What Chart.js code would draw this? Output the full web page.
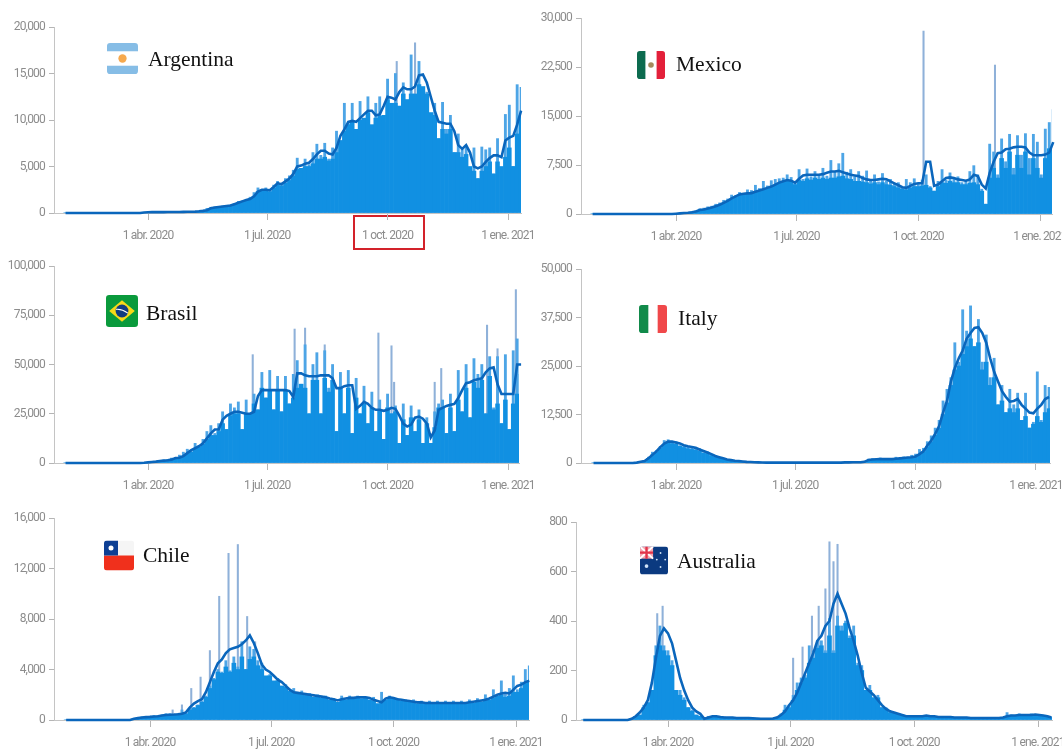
<!DOCTYPE html>
<html>
<head>
<meta charset="utf-8">
<title>Daily cases by country</title>
<script src="https://cdn.jsdelivr.net/npm/chart.js@4"></script>
<style>
  html, body { margin: 0; padding: 0; background: #fff; overflow: hidden; }
  #stage { position: relative; width: 1062px; height: 750px; overflow: hidden; }
  canvas { position: absolute; filter: blur(0.45px); }
  .name { position: absolute; font-family: "Liberation Serif", serif; font-size: 21.5px; color: #111; line-height: 24px; white-space: nowrap; }
  .flag { position: absolute; }
  #oct-box { position: absolute; left: 353px; top: 215px; width: 68px; height: 31px; border: 2px solid #d3222a; }
</style>
</head>
<body>
<div id="stage"><div id="oct-box"></div></div>
<script>
// Axis values (days counted from 1 Jan 2020)
var tickDays = [91, 182, 274, 366];
var tickLabels = ['1 abr. 2020', '1 jul. 2020', '1 oct. 2020', '1 ene. 2021'];
var firstDay = 28;
var dayStep = 3;

// Argentina
var argentinaBody = [
  0,0,0,0,0,0,0,0,0,0,
  0,0,0,0,0,0,0,0,0,0,
  60,80,90,90,90,90,100,100,110,110,
  120,130,140,150,180,230,300,480,600,650,
  700,750,800,950,1100,1200,1300,1500,1800,2300,
  2400,2400,2300,2700,3000,2900,3200,3500,4000,4700,
  4800,5000,5000,5300,5800,5800,6000,5600,5800,6500,
  7800,8800,9500,9800,9000,10000,10200,10800,9500,10200,
  10400,10500,12200,11800,11800,11500,12800,12200,12800,12800,
  13800,13600,12800,10800,10500,8000,9000,8500,9000,6500,
  6500,6000,6300,5000,4500,3700,4500,5000,5500,4200,
  5500,5000,6000,7000,5000,8500,10500
];
var argentinaPeaks = [
  0,0,0,0,0,0,0,0,0,0,
  0,0,0,0,0,0,0,0,0,0,
  60,80,100,90,90,100,110,100,120,110,
  130,150,160,160,220,300,500,620,650,700,
  750,800,850,1000,1250,1300,1400,1700,2200,2700,
  2400,2700,2300,3000,3400,3000,3700,4000,4600,5900,
  4800,5800,5200,6500,7400,6200,7500,5800,7000,8800,
  6800,11800,9800,11800,8900,12000,9800,12500,8500,11800,
  12500,9800,14400,11500,15000,10800,14000,11500,17000,12500,
  16300,13500,13000,10500,11800,8000,11900,9000,10500,6500,
  8500,7000,7200,3300,7000,3700,7100,6800,7000,4200,
  8000,2500,10600,11600,5000,13800,13500
];
var argentinaAvg = [
  0,0,0,0,0,0,0,0,0,0,
  0,0,0,0,0,0,0,0,0,0,
  60,80,90,90,90,90,100,100,110,110,
  120,130,140,150,180,230,300,500,600,650,
  700,750,800,950,1100,1250,1400,1500,1800,2300,
  2500,2500,2450,2800,3200,3100,3400,3700,4200,5000,
  5100,5300,5400,5800,6300,6700,6700,6400,6300,7000,
  8300,9000,9800,9900,9800,10200,10600,11000,11000,10500,
  10600,11500,12500,12400,12200,13000,13500,13300,13300,13600,
  14800,14900,14000,12500,11000,9800,9700,9600,9600,8800,
  7300,6900,7300,6500,5000,4800,5000,5500,5900,6200,
  6200,6000,7800,8100,8300,9500,11000
];
var argentinaSpikeDays = [281, 295];
var argentinaSpikes = [16300, 18300];

// Mexico
var mexicoBody = [
  0,0,0,0,0,0,0,0,0,0,
  0,0,0,0,0,0,0,0,0,0,
  0,50,100,150,200,280,380,600,700,850,
  1000,1200,1400,1700,2000,2300,2600,2900,3000,3100,
  3200,3400,3500,3800,3900,4100,4400,4700,4900,5000,
  5000,4500,5200,5000,5400,5200,5500,5300,5500,5300,
  5500,5500,5700,5800,5400,5300,5000,5000,4900,4800,
  4600,4800,4500,4800,4500,4400,4200,4000,3800,3700,
  4000,4200,4200,4300,4400,4000,3500,4200,4800,4700,
  5000,4800,4800,4500,4500,4700,4800,4500,3500,1500,
  5500,7000,5500,8500,7000,9500,6000,9000,7000,9500,
  6000,8500,7000,5500,8500,10000,10500
];
var mexicoPeaks = [
  0,0,0,0,0,0,0,0,0,0,
  0,0,0,0,0,0,0,0,0,0,
  0,50,120,180,250,350,500,800,900,1100,
  1200,1500,1700,2100,2300,2900,2800,3300,3100,3700,
  3600,4400,3900,5000,4300,5100,5300,5400,5500,6000,
  5600,4700,6800,5300,6900,5700,6500,6000,7000,5800,
  8200,6400,7700,9300,6400,6800,5700,6500,5800,6600,
  5000,6000,4900,6200,5000,5300,4700,4800,4000,5300,
  4800,5400,4600,5200,6000,4200,3500,5000,6800,5200,
  6300,5500,5700,4800,5000,6500,7400,6000,3800,1500,
  10700,9500,6000,11500,8000,12200,7000,12000,9000,12300,
  8500,12200,11000,6000,13000,14000,16000
];
var mexicoAvg = [
  0,0,0,0,0,0,0,0,0,0,
  0,0,0,0,0,0,0,0,0,0,
  0,50,100,150,200,280,380,600,700,850,
  1000,1200,1400,1700,2000,2400,2700,3000,3100,3150,
  3200,3400,3600,3800,4000,4200,4500,4800,5000,5200,
  5100,4800,5400,5900,6000,6000,6000,6000,6100,6300,
  6500,6500,6600,6400,6200,6000,5900,5800,5500,5300,
  5200,5200,5300,5400,5300,5000,4700,4400,4100,4000,
  4300,4600,4700,4700,8000,8000,4300,4500,5000,5500,
  5600,5500,5300,5200,5100,5300,6000,5800,4500,3900,
  6300,8000,9300,9400,9900,10000,10200,10300,10300,10200,
  9400,9000,9000,9000,9100,9400,11000
];
var mexicoSpikeDays = [278, 332];
var mexicoSpikes = [28000, 22800];

// Brasil
var brasilBody = [
  0,0,0,0,0,0,0,0,0,0,
  0,0,0,0,0,0,0,0,0,0,
  100,300,500,700,1000,1200,1400,1700,2300,2700,
  3500,4800,5500,7000,8000,9500,12000,14000,14000,16000,
  20000,17000,24000,25000,25000,17000,25000,25000,30000,27000,
  38000,33000,37000,27000,37000,26000,37000,30000,33000,38000,
  40000,38000,25000,42000,42000,25000,43000,36000,42000,16000,
  38000,25000,38000,15000,33000,25000,30000,20000,28000,16000,
  27000,12000,28000,25000,26000,10000,22000,14000,23000,16000,
  22000,10000,20000,10000,18000,28000,28000,15000,28000,16000,
  32000,26000,38000,23000,41000,38000,42000,25000,44000,27000,
  30000,20000,32000,17000,30000,35000,45000
];
var brasilPeaks = [
  0,0,0,0,0,0,0,0,0,0,
  0,0,0,0,0,0,0,0,0,0,
  100,300,500,800,1200,1500,1700,2500,2800,4000,
  5500,7000,6000,10000,9000,12000,16000,19000,15000,20000,
  26000,17000,30000,28000,31000,17000,32000,25000,35000,27000,
  46000,33000,47000,27000,44000,26000,44000,30000,45000,52000,
  40000,60000,25000,50000,56000,25000,57000,38000,50000,16000,
  46000,25000,47000,15000,43000,25000,39000,20000,36000,16000,
  32000,12000,35000,25000,29000,10000,30000,14000,29000,16000,
  27000,10000,23000,10000,26000,30000,32000,15000,35000,16000,
  47000,26000,50000,23000,53000,45000,50000,25000,54000,28000,
  54000,20000,55000,17000,57000,63000,61000
];
var brasilAvg = [
  0,0,0,0,0,0,0,0,0,0,
  0,0,0,0,0,0,0,0,0,0,
  100,300,500,700,1000,1200,1400,1700,2500,2700,
  3500,5000,6500,7500,8500,10000,12500,15000,17000,17000,
  22000,24000,25000,26000,26000,25500,25000,25000,26000,34000,
  37000,37000,37000,37000,37000,37000,37000,36500,33500,45500,
  45500,44500,44000,44000,44000,44500,44500,44500,43000,38000,
  38000,39000,39500,39500,27500,29000,31000,30000,28000,27000,
  27000,26500,27000,28000,27500,24000,20000,18500,19500,23000,
  23500,22500,20000,13000,16500,27000,28000,29000,29500,30000,
  33000,37000,40500,41000,42000,42500,43000,46000,48000,48500,
  40000,35000,35000,35000,35000,50000,50000
];
var brasilSpikeDays = [171, 203, 211, 226, 267, 277, 279, 310, 315, 350, 358, 372];
var brasilSpikes = [55000, 68000, 68500, 60000, 66000, 59500, 41000, 41000, 48000, 70000, 58000, 88000];

// Italy
var italyBody = [
  0,0,0,0,0,0,0,0,0,0,
  0,100,300,500,1200,2100,2800,3800,4800,5200,
  5000,4800,4300,4000,3700,3500,3300,3000,2500,2400,
  1900,1600,1200,1000,700,600,400,400,250,200,
  200,150,100,100,100,100,100,100,100,100,
  100,100,100,100,100,100,100,100,100,100,
  100,100,100,100,150,150,200,200,200,300,
  700,800,800,900,900,900,900,1000,1000,1200,
  1200,1400,1600,2200,2800,4200,5500,7200,9000,12500,
  15500,20000,24000,25000,28000,30000,32000,30000,31000,24000,
  26000,20000,22000,15000,16000,13000,14000,13000,14000,11000,
  12000,9000,10000,12000,10500,13000,14000
];
var italyPeaks = [
  0,0,0,0,0,0,0,0,0,0,
  0,100,400,600,1500,2800,3200,4300,5800,6000,
  5200,5500,4500,4500,4100,3900,3600,3700,2700,2900,
  2000,1900,1200,1200,800,800,500,600,300,300,
  250,250,150,150,100,100,100,100,100,100,
  100,100,100,100,100,100,100,100,100,100,
  100,100,100,100,150,150,200,200,200,300,
  1000,1100,900,1300,1200,1200,1200,1500,1200,1600,
  1500,2000,2300,3500,3800,5500,7000,9000,11000,16000,
  19000,22000,31000,26000,39500,34000,40500,30000,37000,26000,
  33000,22000,27000,15000,20000,13000,19000,15000,18000,11000,
  18000,9000,10500,23500,11000,20000,19500
];
var italyAvg = [
  0,0,0,0,0,0,0,0,0,0,
  0,100,300,500,1200,2100,3000,4100,5000,5500,
  5500,5300,5000,4600,4300,4100,3900,3500,3100,2700,
  2300,1800,1500,1200,900,750,600,500,400,300,
  250,200,150,120,100,100,100,100,100,100,
  100,100,100,100,100,100,100,100,100,100,
  100,100,100,100,150,150,200,200,200,300,
  800,900,950,1000,1000,1000,1000,1100,1200,1300,
  1400,1500,1700,2300,3000,4500,5800,7500,9500,13000,
  16000,21000,24500,27000,29000,32000,33500,34800,35000,33500,
  31000,27000,23500,21000,18500,17000,15800,16000,16500,15000,
  14000,13000,12800,14000,15000,16500,17000
];
var italySpikeDays = [];
var italySpikes = [];

// Chile
var chileBody = [
  0,0,0,0,0,0,0,0,0,0,
  0,0,0,0,0,0,0,100,150,200,
  230,250,280,300,350,400,400,400,430,480,
  500,800,950,1150,1400,1800,2500,3200,3800,3700,
  4200,3800,4500,4000,5000,4000,4800,5000,4300,4000,
  3500,3500,3100,3100,2700,2600,2300,2200,2050,2050,
  1950,1950,1800,1850,1750,1750,1600,1600,1400,1600,
  1600,1700,1650,1750,1700,1750,1600,1500,1300,1400,
  1600,1750,1650,1600,1500,1500,1400,1400,1300,1350,
  1250,1300,1250,1300,1250,1300,1250,1300,1250,1300,
  1250,1350,1350,1450,1450,1550,1600,1750,1900,2000,
  1800,1900,2200,2200,2500,2900,3100
];
var chilePeaks = [
  0,0,0,0,0,0,0,0,0,0,
  0,0,0,0,0,0,0,100,200,250,
  250,300,350,350,400,500,500,400,500,800,
  500,900,1000,1200,1500,1900,2700,3300,4000,3800,
  4700,3900,5000,4200,6200,4000,5800,5600,4700,4500,
  3000,3600,2500,3300,2300,2800,2200,2500,1800,2300,
  1700,2100,1500,2000,1600,1900,1500,1700,1200,1900,
  1300,1900,1400,1900,1300,1800,1400,1800,1100,2200,
  1500,1900,1300,1700,1300,1600,1100,1600,1100,1500,
  1000,1500,1100,1500,1000,1500,1000,1500,1000,1500,
  1100,1600,1200,1700,1300,2000,1500,2400,1700,3100,
  2000,2500,3500,2400,3000,4000,4300
];
var chileAvg = [
  0,0,0,0,0,0,0,0,0,0,
  0,0,0,0,0,0,0,100,150,200,
  230,250,280,300,350,400,420,430,450,500,
  600,1000,1300,1500,1650,2200,3000,3800,4500,4800,
  5300,5600,5700,5800,6000,6300,6700,6100,5300,4400,
  4000,3800,3500,3200,3000,2700,2400,2200,2150,2100,
  2050,2000,1950,1900,1850,1800,1700,1650,1550,1650,
  1700,1750,1750,1800,1800,1800,1750,1600,1500,1400,
  1700,1800,1750,1650,1600,1550,1500,1450,1400,1400,
  1350,1350,1350,1350,1350,1350,1350,1350,1350,1350,
  1350,1400,1450,1500,1550,1600,1700,1850,2000,2100,
  2150,2100,2400,2700,2800,3000,3100
];
var chileSpikeDays = [108, 115, 122, 129, 136, 143, 150, 157, 164, 170];
var chileSpikes = [800, 1200, 2500, 3400, 5500, 9800, 13200, 13900, 8200, 6200];

// Australia
var australiaBody = [
  0,0,0,0,0,0,0,0,0,0,
  0,0,5,15,20,50,70,120,260,300,
  280,260,220,120,100,80,50,35,20,15,
  5,10,10,12,10,10,8,8,8,8,
  8,8,6,6,5,5,5,6,10,20,
  40,50,80,120,150,170,230,250,290,300,
  270,340,270,380,360,390,330,340,220,200,
  120,120,90,90,50,45,30,30,25,20,
  15,15,15,15,15,18,15,15,12,12,
  12,12,10,10,10,10,8,8,8,8,
  8,8,8,8,10,15,18,18,20,20,
  20,20,22,20,18,15,10
];
var australiaPeaks = [
  0,0,0,0,0,0,0,0,0,0,
  0,0,5,15,20,60,70,120,300,380,
  300,280,240,120,120,90,50,40,20,15,
  5,15,12,15,10,12,10,8,8,8,
  8,8,6,6,5,5,5,6,12,25,
  60,60,100,150,170,180,300,280,320,320,
  280,410,280,420,380,400,340,380,230,220,
  120,140,90,100,50,50,30,30,25,20,
  15,15,15,15,15,18,15,15,12,12,
  12,12,10,10,10,10,8,8,8,8,
  8,8,8,8,10,30,20,18,25,20,
  20,25,22,20,18,15,10
];
var australiaAvg = [
  0,0,0,0,0,0,0,0,0,0,
  0,0,5,15,30,50,80,150,250,340,
  370,350,310,240,170,120,80,50,35,25,
  5,10,15,15,12,10,10,10,8,8,
  8,8,7,6,5,5,5,6,10,20,
  35,60,80,110,150,190,230,270,320,340,
  380,400,470,510,470,430,370,320,260,190,
  130,115,100,80,60,45,35,30,25,20,
  15,15,15,15,15,18,15,15,12,12,
  12,12,10,10,10,10,8,8,8,8,
  8,8,8,8,10,15,18,18,20,20,
  20,20,22,20,18,15,10
];
var australiaSpikeDays = [83, 87, 184, 191, 198, 203, 208, 211, 214, 217];
var australiaSpikes = [430, 460, 250, 295, 420, 460, 530, 720, 640, 710];

// Y axis ranges
var argentinaMax = 20000, mexicoMax = 30000, brasilMax = 100000;
var italyMax = 50000, chileMax = 16000, australiaMax = 800;

function flagSvg(inner, w, h) {
    return '<svg width="' + w + '" height="' + h + '" viewBox="0 0 30 30"><defs><clipPath id="c' + inner.length + '"><rect width="30" height="30" rx="3"/></clipPath></defs>' +
        '<g clip-path="url(#c' + inner.length + ')">' + inner + '</g></svg>';
}

var flags = {
    argentina: '<rect width="30" height="30" fill="#fff"/><rect width="30" height="8" fill="#86bde6"/><rect y="22" width="30" height="8" fill="#86bde6"/><circle cx="15" cy="15" r="4" fill="#f6a94e"/>',
    mexico: '<rect width="30" height="30" fill="#fff"/><rect width="9" height="30" fill="#0c6b4f"/><rect x="21" width="9" height="30" fill="#e3203a"/><circle cx="15" cy="15" r="3" fill="#a58a5c"/>',
    brasil: '<rect width="30" height="30" fill="#0a9a3c"/><path d="M15 5L27 15L15 25L3 15Z" fill="#f7d918"/><circle cx="15" cy="15" r="6" fill="#123c80"/><path d="M9.5 13.5Q15 13 20.5 17" stroke="#fff" stroke-width="1" fill="none"/>',
    italy: '<rect width="30" height="30" fill="#fff"/><rect width="10" height="30" fill="#118a4a"/><rect x="20" width="10" height="30" fill="#f0484a"/>',
    chile: '<rect width="30" height="30" fill="#f5f5f5"/><rect y="15" width="30" height="15" fill="#f0301c"/><rect width="14" height="15" fill="#0d3f94"/><circle cx="7" cy="7.5" r="2.5" fill="#fff"/>',
    australia: '<rect width="30" height="30" fill="#0b3a80"/><rect width="14" height="13" fill="#f4a6b0"/><path d="M0 0L14 13M14 0L0 13" stroke="#fff" stroke-width="2"/><path d="M7 0V13M0 6.5H14" stroke="#e2344a" stroke-width="2.5"/><circle cx="7" cy="21" r="2" fill="#cfe3f7"/><circle cx="22" cy="7" r="1" fill="#cfe3f7"/><circle cx="27" cy="14" r="1" fill="#cfe3f7"/><circle cx="22" cy="22" r="1" fill="#cfe3f7"/><circle cx="18" cy="14" r="1" fill="#cfe3f7"/>'
};

// Where each panel sits on the page
var panels = [
    { name: 'Argentina', flag: 'argentina', body: argentinaBody, peaks: argentinaPeaks, avg: argentinaAvg, spikeDays: argentinaSpikeDays, spikes: argentinaSpikes, yMax: argentinaMax,
      axis: 54, right: 521, apr: 148, jan: 508, top: 27, bottom: 213, flagBox: [107, 43, 31, 31], label: [148, 47] },
    { name: 'Mexico', flag: 'mexico', body: mexicoBody, peaks: mexicoPeaks, avg: mexicoAvg, spikeDays: mexicoSpikeDays, spikes: mexicoSpikes, yMax: mexicoMax,
      axis: 581, right: 1052, apr: 676, jan: 1040, top: 18, bottom: 214, flagBox: [637, 50, 28, 30], label: [676, 52] },
    { name: 'Brasil', flag: 'brasil', body: brasilBody, peaks: brasilPeaks, avg: brasilAvg, spikeDays: brasilSpikeDays, spikes: brasilSpikes, yMax: brasilMax,
      axis: 54, right: 519, apr: 148, jan: 508, top: 266, bottom: 463, flagBox: [106, 295, 32, 32], label: [146, 301] },
    { name: 'Italy', flag: 'italy', body: italyBody, peaks: italyPeaks, avg: italyAvg, spikeDays: italySpikeDays, spikes: italySpikes, yMax: italyMax,
      axis: 581, right: 1050, apr: 676, jan: 1036, top: 269, bottom: 463, flagBox: [639, 305, 28, 28], label: [678, 306] },
    { name: 'Chile', flag: 'chile', body: chileBody, peaks: chilePeaks, avg: chileAvg, spikeDays: chileSpikeDays, spikes: chileSpikes, yMax: chileMax,
      axis: 54, right: 529, apr: 150, jan: 516, top: 518, bottom: 720, flagBox: [104, 540, 30, 31], label: [143, 543] },
    { name: 'Australia', flag: 'australia', body: australiaBody, peaks: australiaPeaks, avg: australiaAvg, spikeDays: australiaSpikeDays, spikes: australiaSpikes, yMax: australiaMax,
      axis: 576, right: 1052, apr: 668, jan: 1038, top: 522, bottom: 720, flagBox: [640, 546, 28, 29], label: [677, 549] }
];

var stage = document.getElementById('stage');
var axisRoom = 50, topRoom = 12, bottomRoom = 36, rightRoom = 45;
var tickFont = { family: 'Roboto, "Liberation Sans", sans-serif', size: 12 };

// No condensed font is installed, so the tick text is squeezed instead
var squeezeText = {
    id: 'squeezeText',
    beforeDraw: function (chart) {
        chart.ctx.letterSpacing = '-0.8px';
    }
};

function toPoints(values) {
    return values.map(function (v, i) {
        return { x: firstDay + i * dayStep, y: v };
    });
}

panels.forEach(function (p) {
    var canvas = document.createElement('canvas');
    var w = p.right - p.axis + axisRoom + rightRoom;
    var h = p.bottom - p.top + topRoom + bottomRoom;
    canvas.width = w;
    canvas.height = h;
    canvas.style.left = (p.axis - axisRoom) + 'px';
    canvas.style.top = (p.top - topRoom) + 'px';
    canvas.style.width = w + 'px';
    canvas.style.height = h + 'px';
    stage.appendChild(canvas);

    var perDay = (p.jan - p.apr) / (tickDays[3] - tickDays[0]);
    var xMin = tickDays[0] - (p.apr - p.axis) / perDay;
    var xMax = tickDays[0] + (p.right - p.apr) / perDay;

    new Chart(canvas, {
        type: 'bar',
        plugins: [squeezeText],
        data: {
            datasets: [
                { type: 'line', data: toPoints(p.avg), borderColor: '#0a66bc', borderWidth: 2.6, pointRadius: 0, tension: 0, clip: false, order: 0 },
                { data: toPoints(p.body), backgroundColor: '#1190e2', barThickness: 3 * perDay, grouped: false, order: 1 },
                { data: toPoints(p.peaks), backgroundColor: '#4da5e6', barThickness: 2.2, grouped: false, order: 2 },
                { data: p.spikeDays.map(function (d, i) { return { x: d, y: p.spikes[i] }; }), backgroundColor: '#8fb1d9', barThickness: 1.4, grouped: false, order: 3 }
            ]
        },
        options: {
            responsive: false,
            animation: false,
            layout: { padding: { left: 0, right: rightRoom, top: topRoom, bottom: 0 } },
            plugins: { legend: { display: false }, tooltip: { enabled: false } },
            scales: {
                x: {
                    type: 'linear',
                    min: xMin,
                    max: xMax,
                    offset: false,
                    afterBuildTicks: function (scale) {
                        scale.ticks = tickDays.map(function (d) { return { value: d }; });
                    },
                    afterFit: function (scale) {
                        scale.height = bottomRoom;
                        scale.paddingLeft = 0;
                        scale.paddingRight = 0;
                    },
                    border: { display: true, color: '#c4c4c4' },
                    grid: { offset: false, drawOnChartArea: false, drawTicks: true, tickLength: 7, color: '#b5b5b5' },
                    ticks: {
                        autoSkip: false, maxRotation: 0, padding: 9, color: '#8c8c8c', font: tickFont,
                        callback: function (value) { return tickLabels[tickDays.indexOf(value)]; }
                    }
                },
                y: {
                    min: 0,
                    max: p.yMax,
                    afterFit: function (scale) {
                        scale.width = axisRoom;
                        scale.paddingTop = 0;
                        scale.paddingBottom = 0;
                    },
                    border: { display: true, color: '#c4c4c4' },
                    grid: { drawOnChartArea: false, drawTicks: true, tickLength: 5, color: '#b5b5b5' },
                    ticks: {
                        stepSize: p.yMax / 4, padding: 4, color: '#8c8c8c', font: tickFont,
                        callback: function (value) { return value.toLocaleString('en-US'); }
                    }
                }
            }
        }
    });

    var flag = document.createElement('div');
    flag.className = 'flag';
    flag.style.left = p.flagBox[0] + 'px';
    flag.style.top = p.flagBox[1] + 'px';
    flag.innerHTML = flagSvg(flags[p.flag], p.flagBox[2], p.flagBox[3]);
    stage.appendChild(flag);

    var label = document.createElement('div');
    label.className = 'name';
    label.style.left = p.label[0] + 'px';
    label.style.top = p.label[1] + 'px';
    label.textContent = p.name;
    stage.appendChild(label);
});
</script>
</body>
</html>
